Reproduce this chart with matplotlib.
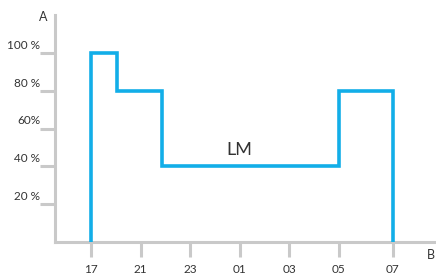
import matplotlib.pyplot as plt
from matplotlib.transforms import blended_transform_factory

# step profile, x in tick-slot units (17 = 0, 21 = 1, ...)
step_x = [0, 0, 0.52, 0.52, 1.43, 1.43, 5.0, 5.0, 6.1, 6.1]
step_y = [0, 100, 100, 80, 80, 40, 40, 80, 80, 0]

tick_pos = [0, 1, 2, 3, 4, 5, 6.1]
tick_labels = ["17", "21", "23", "01", "03", "05", "07"]
y_vals = [100, 80, 60, 40, 20]
y_labels = ["100 %", "80 %", "60%", "40 %", "20 %"]

blue = "#12aee8"
grey = "#c9c9c9"
txt = "#333333"
font = "Lato"

W, H = 436, 275
fig = plt.figure(figsize=(W / 100, H / 100), dpi=100)
# axes frame in pixels: left spine x=55, bottom spine y=242, top y=15, right edge
ax = fig.add_axes([55 / W, (H - 242) / H, (W - 55) / W, (242 - 15) / H])

ax.plot(step_x, step_y, color=blue, lw=2.6, solid_joinstyle="miter", zorder=3)

px_per_slot = 49.5
ax.set_xlim((55 - 91) / px_per_slot, (W - 91) / px_per_slot)
ax.set_ylim(0, (242 - 15) / 37.8 * 20)

for s in ["top", "right"]:
    ax.spines[s].set_visible(False)
for s in ["left", "bottom"]:
    ax.spines[s].set_color(grey)
    ax.spines[s].set_linewidth(2.2)
    ax.spines[s].set_zorder(2)

ax.set_xticks(tick_pos)
ax.set_xticklabels(tick_labels, fontsize=8.5, color=txt, family=font)
ax.set_yticks(y_vals)
ax.set_yticklabels([])
ax.tick_params(axis="both", length=11, width=2.2, color=grey, direction="out")
ax.tick_params(axis="x", pad=5)

tr = blended_transform_factory(fig.transFigure, ax.transData)
for v, lab in zip(y_vals, y_labels):
    ax.text(40 / W, v + 1.2, lab, transform=tr, ha="right", va="bottom",
            fontsize=8.5, color=txt, family=font)

fig.text(43 / W, 1 - 17 / H, "A", ha="center", va="center",
         fontsize=9, color=txt, family=font)
fig.text(427 / W, 1 - 255 / H, "B", ha="left", va="center",
         fontsize=9, color=txt, family=font)

ax.text(3.0, 44.5, "LM", ha="center", va="bottom", fontsize=13,
        color=txt, family=font)

fig.savefig("out.png", dpi=100)
